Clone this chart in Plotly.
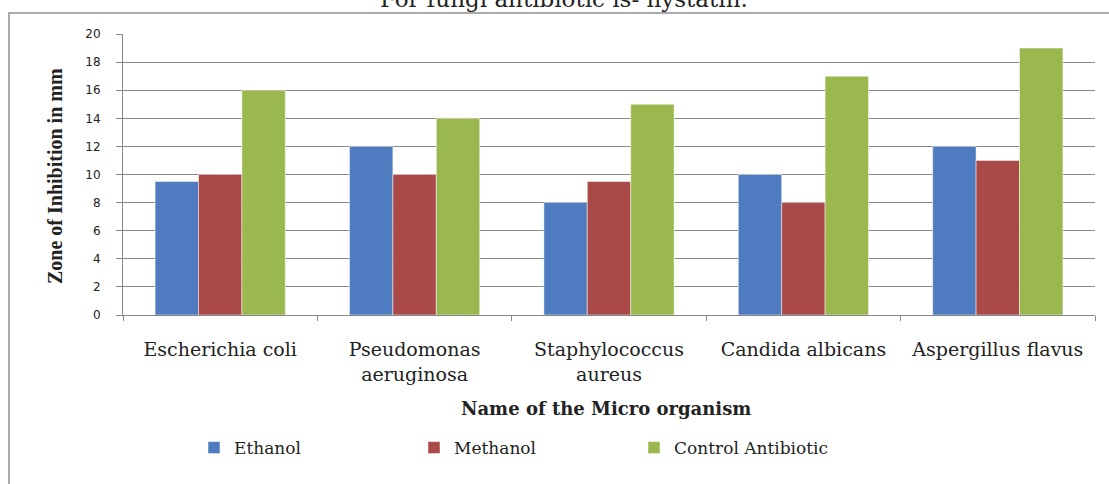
import plotly.graph_objects as go

categories = ["Escherichia coli", "Pseudomonas<br>aeruginosa", "Staphylococcus<br>aureus",
              "Candida albicans", "Aspergillus flavus"]
ethanol = [9.5, 12, 8, 10, 12]
methanol = [10, 10, 9.5, 8, 11]
control = [16, 14, 15, 17, 19]
series_names = ["Ethanol", "Methanol", "Control Antibiotic"]
colors = ["#4F7CC0", "#A94A49", "#9BB84F"]
y_ticks = [0, 2, 4, 6, 8, 10, 12, 14, 16, 18, 20]

W, H = 1109, 484
L, T = 123, 34
R = W - 1095
B = H - 315

fig = go.Figure()
for name, vals, c in zip(series_names, [ethanol, methanol, control], colors):
    fig.add_trace(go.Bar(x=categories, y=vals, name=name, marker_color=c,
                         marker_line=dict(color="rgba(255,255,255,0.6)", width=0.8)))

pw, ph = W - L - R, H - T - B
def px(xs):  # screen x -> paper
    return (xs - L) / pw
def py(ys):  # screen y -> paper
    return (H - B - ys) / ph

serif = "DejaVu Serif"
fig.update_layout(
    width=W, height=H,
    margin=dict(l=L, r=R, t=T, b=B),
    paper_bgcolor="white", plot_bgcolor="white",
    barmode="group", bargap=0.33, bargroupgap=0,
    showlegend=True,
    legend=dict(orientation="h", x=px(194), xanchor="left", y=py(448), yanchor="middle",
                font=dict(family=serif, size=17, color="#222"),
                entrywidth=175, entrywidthmode="pixels"),
    xaxis=dict(showline=True, linecolor="#888", linewidth=1, ticks="outside",
               tickson="boundaries", ticklen=5, tickcolor="#888",
               ticklabelstandoff=17,
               tickfont=dict(family=serif, size=19, color="#222")),
    yaxis=dict(range=[0, 20], tickvals=y_ticks, showline=True, linecolor="#888",
               linewidth=1, ticks="outside", ticklen=6, tickcolor="#888",
               ticklabelstandoff=13,
               showgrid=True, gridcolor="#8a8a8a", gridwidth=1, zeroline=False,
               tickfont=dict(family="DejaVu Sans", size=12, color="#222")),
    annotations=[
        dict(text="For fungi antibiotic is- nystatin.", xref="paper", yref="paper",
             x=px(564), y=py(14), xanchor="center", yanchor="bottom", showarrow=False,
             font=dict(family=serif, size=23, color="#222")),
        dict(text="<b>Name of the Micro organism</b>", xref="paper", yref="paper",
             x=px(606), y=py(408), xanchor="center", yanchor="middle", showarrow=False,
             font=dict(family=serif, size=18, color="#222")),
        dict(text="<b>Zone of Inhibition in mm</b>", xref="paper", yref="paper",
             x=px(55), y=py(176), xanchor="center", yanchor="middle", showarrow=False,
             textangle=-90,
             font=dict(family="Liberation Serif", size=20, color="#222")),
    ],
    shapes=[
        dict(type="line", xref="paper", yref="paper", x0=px(8), x1=px(1115),
             y0=py(13), y1=py(13), line=dict(color="#aaaaaa", width=2)),
        dict(type="line", xref="paper", yref="paper", x0=px(9), x1=px(9),
             y0=py(12), y1=py(490), line=dict(color="#aaaaaa", width=2)),
    ],
)

fig.write_html("out.html", config={"displayModeBar": False},
               post_script="document.body.style.margin='0px';")
